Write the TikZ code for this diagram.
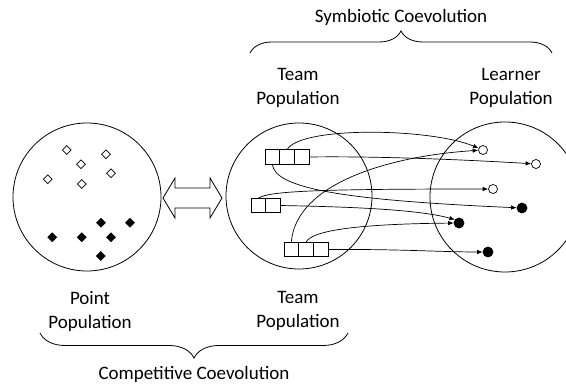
\documentclass[tikz,border=0pt]{standalone}
\usepackage{fontspec}
\setmainfont{Carlito}
\usetikzlibrary{shapes.geometric,arrows.meta,decorations.pathreplacing}
\begin{document}
\begin{tikzpicture}[x=1pt,y=1pt,
  pop/.style={draw, circle, line width=0.8pt, inner sep=0pt, minimum size=#1},
  cell/.style={draw, line width=0.8pt, minimum width=14.7pt, minimum height=14.5pt, inner sep=0pt, outer sep=0pt},
  hdia/.style={draw, diamond, fill=white, line width=0.7pt, inner sep=0pt, minimum width=9pt, minimum height=9pt},
  fdia/.style={draw, diamond, fill=black, line width=0.7pt, inner sep=0pt, minimum width=9pt, minimum height=9pt},
  hdot/.style={draw, circle, fill=white, line width=0.7pt, inner sep=0pt, minimum size=9pt},
  fdot/.style={draw, circle, fill=black, line width=0.7pt, inner sep=0pt, minimum size=10pt},
  conn/.style={line width=0.7pt, -{Latex[length=5.5pt,width=4.5pt]}},
  brc/.style={decorate, decoration={brace, amplitude=#1}, line width=0.8pt},
  lbl/.style={font=\fontsize{19}{24}\selectfont, align=center, inner sep=0pt}
]
\clip (0,0) rectangle (566,388);

% the three populations
\node[pop=148pt] (points)  at (87,191)  {};
\node[pop=146pt] (teams)   at (299,192) {};
\node[pop=150pt] (learners) at (505,191) {};

% point population: hollow and filled diamonds
\node[hdia] (p1) at (66.7,238) {};
\node[hdia] (p2) at (106,233.7) {};
\node[hdia] (p3) at (81,223.7) {};
\node[hdia] (p4) at (111,214.7) {};
\node[hdia] (p5) at (47.7,208.7) {};
\node[hdia] (p6) at (81.7,204) {};
\node[fdia] (q1) at (101,165.3) {};
\node[fdia] (q2) at (130,165.3) {};
\node[fdia] (q3) at (52.3,150.7) {};
\node[fdia] (q4) at (81.7,150.7) {};
\node[fdia] (q5) at (111,150.7) {};
\node[fdia] (q6) at (100.7,132) {};

% double-headed arrow between point and team populations
\draw[line width=0.8pt, fill=white]
  (163,190) -- (175,210) -- (175,200) -- (210,200) -- (210,210) -- (222,190)
  -- (210,170) -- (210,180) -- (175,180) -- (175,170) -- cycle;

% teams as rows of cells
\node[cell] (A1) at (272.3,231) {};
\node[cell] (A2) at (287,231) {};
\node[cell] (A3) at (301.7,231) {};
\node[cell] (B1) at (258.3,182.5) {};
\node[cell] (B2) at (273,182.5) {};
\node[cell] (C1) at (291.3,138.5) {};
\node[cell] (C2) at (306,138.5) {};
\node[cell] (C3) at (320.7,138.5) {};

% learners
\node[hdot] (h1) at (483,238) {};
\node[hdot] (h2) at (536,224) {};
\node[hdot] (h3) at (493,199) {};
\node[fdot] (f1) at (522,180) {};
\node[fdot] (f2) at (459,165) {};
\node[fdot] (f3) at (488,136) {};

% team-to-learner references
\draw[conn] (A2.north) .. controls (300,262) and (430,260) .. (h1);
\draw[conn] (A3.east) .. controls (380,232) and (470,228) .. (h2);
\draw[conn] (A1.south) .. controls (275,200) and (340,188) .. (f1);
\draw[conn] (B1.north) .. controls (268,197) and (320,199) .. (h3);
\draw[conn] (B2.east) .. controls (360,181) and (420,178) .. (f2.140);
\draw[conn] (C1.north) .. controls (296,205) and (390,232) .. (h1);
\draw[conn] (C2.north) .. controls (312,158) and (360,164) .. (f2);
\draw[conn] (C3.east) .. controls (400,139) and (440,136) .. (f3);

% braces
\coordinate (tb1) at (250,335);
\coordinate (tb2) at (552,335);
\coordinate (bb1) at (40,55);
\coordinate (bb2) at (348,55);
\draw[brc=22pt] (tb1) -- (tb2);
\draw[brc=25pt] (bb2) -- (bb1);

% labels
\node[lbl] (sym)  at (401,371)   {Symbiotic Coevolution};
\node[lbl] (tpop) at (298,300.5) {Team\\Population};
\node[lbl] (lpop) at (511,300.5) {Learner\\Population};
\node[lbl] (ppop) at (90,77)     {Point\\Population};
\node[lbl] (bpop) at (298,77)    {Team\\Population};
\node[lbl] (comp) at (194,14)    {Competitive Coevolution};
\end{tikzpicture}
\end{document}
